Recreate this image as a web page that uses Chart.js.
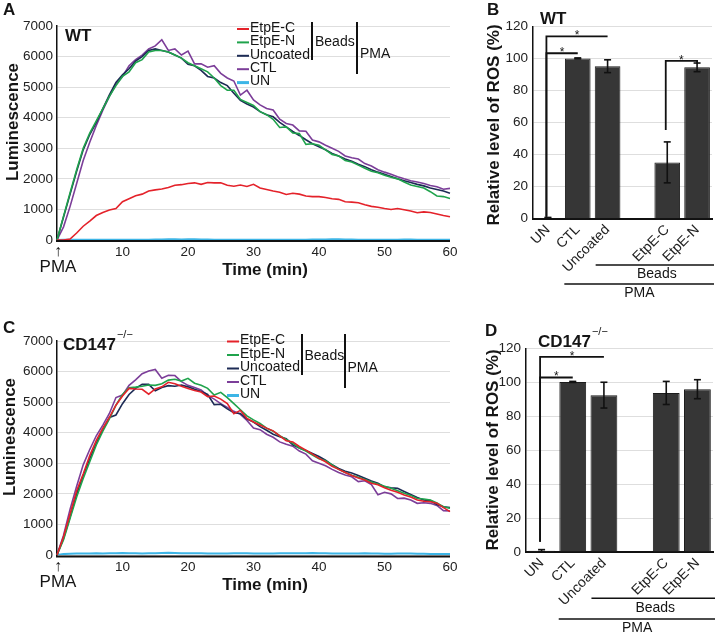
<!DOCTYPE html>
<html><head><meta charset="utf-8">
<script src="https://cdn.jsdelivr.net/npm/chart.js@4.4.1/dist/chart.umd.min.js"></script>
<style>
html,body{margin:0;padding:0;background:#fff;}
#wrap{position:relative;width:726px;height:636px;overflow:hidden;background:#fff;}
#wrap canvas{position:absolute;left:0;top:0;}
</style></head><body>
<div id="wrap">
<canvas id="cA" width="726" height="636"></canvas>
<canvas id="cB" width="726" height="636"></canvas>
<canvas id="cC" width="726" height="636"></canvas>
<canvas id="cD" width="726" height="636"></canvas>
</div>
<script>
// ---------------- DATA ----------------
const times = [0,1,2,3,4,5,6,7,8,9,10,11,12,13,14,15,16,17,18,19,20,21,22,23,24,25,26,27,28,29,30,31,32,33,34,35,36,37,38,39,40,41,42,43,44,45,46,47,48,49,50,51,52,53,54,55,56,57,58,59,60];
const xTickValues = [10,20,30,40,50,60];
const lumTicks = [0,1000,2000,3000,4000,5000,6000,7000];
const rosTicks = [0,20,40,60,80,100,120];
const seriesNames = ['EtpE-C','EtpE-N','Uncoated','CTL','UN'];

// WT luminescence
const wtEtpEC = [0,0,30,230,450,620,800,900,980,1030, 1250,1350,1450,1500,1600,1640,1670,1720,1790,1810, 1850,1870,1820,1880,1870,1870,1790,1760,1800,1750, 1820,1700,1650,1600,1560,1490,1530,1500,1440,1420, 1420,1390,1350,1330,1250,1240,1220,1150,1100,1070, 1030,1000,1030,990,950,890,920,900,850,800, 760];
const wtEtpEN = [0,780,1550,2300,3000,3500,3900,4300,4700,5050, 5350,5500,5800,5900,6150,6200,6200,6150,6050,5950, 5800,5700,5600,5500,5300,5050,4900,4900,4600,4500, 4400,4200,4100,3950,3680,3700,3500,3480,3130,3150, 3100,2950,2800,2750,2600,2550,2450,2350,2250,2200, 2120,2050,2000,1900,1800,1750,1700,1580,1440,1420, 1360];
const wtUncoated = [0,750,1500,2250,2950,3450,3850,4300,4750,5150, 5400,5600,5850,6000,6200,6250,6200,6150,6050,5950, 5750,5700,5550,5350,5300,5150,5050,4800,4570,4450, 4350,4200,4100,4030,3850,3700,3550,3420,3280,3150, 3050,2950,2830,2750,2650,2580,2480,2400,2300,2220, 2150,2080,2000,1940,1880,1820,1770,1700,1650,1600, 1530];
const wtCTL = [0,430,1100,1850,2600,3200,3750,4250,4700,5100, 5350,5700,5900,6050,6250,6350,6550,6200,6250,6050, 6180,5760,5760,5650,5700,5450,5300,5200,4740,4900, 4580,4420,4300,4250,3950,3810,3760,3570,3560,3270, 3210,3100,3000,2900,2750,2690,2650,2500,2420,2300, 2220,2150,2070,2000,1940,1900,1850,1780,1740,1660, 1690];
const wtUN = [0,5,5,5,10,10,10,5,10,10, 10,10,10,10,10,15,20,25,25,20, 25,25,20,15,10,10,10,5,5,5, 5,5,5,5,5,5,10,10,10,15, 15,20,25,25,20,15,10,10,10,5, 5,5,10,15,15,10,10,5,5,5, 5];

// CD147-/- luminescence
const koEtpEC = [0,600,1350,2100,2650,3250,3750,4150,4500,4900, 5200,5450,5430,5420,5260,5430,5500,5650,5600,5520, 5450,5380,5330,5180,5200,5100,4950,4620,4730,4470, 4350,4250,4150,4060,3900,3740,3700,3550,3430,3300, 3160,3050,2900,2800,2700,2600,2520,2450,2350,2300, 2200,2120,2050,1960,1900,1800,1760,1740,1690,1550, 1420];
const koEtpEN = [0,500,1200,1900,2500,3050,3600,4050,4450,4900, 5250,5470,5490,5520,5560,5550,5600,5720,5750,5690, 5780,5620,5550,5450,5230,5320,5150,4950,4750,4550, 4420,4300,4150,4050,3900,3780,3650,3500,3400,3270, 3150,3080,2950,2800,2700,2610,2540,2470,2390,2320, 2250,2180,2100,2020,1950,1850,1830,1800,1700,1580, 1530];
const koUncoated = [0,550,1250,2000,2600,3150,3650,4100,4500,4580, 4950,5250,5450,5580,5580,5370,5480,5540,5520,5560, 5500,5420,5350,5250,4920,4930,4780,4650,4630,4450, 4350,4200,4080,3950,3870,3800,3600,3500,3420,3320, 3220,3100,2950,2830,2740,2680,2600,2510,2420,2350, 2230,2200,2180,2080,1980,1880,1800,1780,1650,1580, 1550];
const koCTL = [0,650,1500,2250,2950,3450,3900,4250,4630,5150, 5230,5550,5730,5930,6020,6070,5780,5880,5870,5670, 5550,5480,5400,5220,5100,4950,4830,4700,4600,4400, 4150,4100,3950,3850,3700,3620,3560,3400,3300,3080, 3000,2920,2800,2700,2620,2560,2400,2430,2300,1970, 2050,2000,1850,1860,1800,1690,1710,1690,1620,1450, 1440];
const koUN = [0,30,40,45,50,50,55,50,55,60, 65,60,55,50,55,60,65,70,65,60, 60,55,55,50,50,45,50,55,60,55, 50,50,45,50,55,60,60,55,60,65, 60,55,50,50,45,45,50,55,50,45, 40,40,45,50,45,40,40,35,35,30, 30];

// Relative ROS (%)
const barCategories = ['UN','CTL','Uncoated','','EtpE-C','EtpE-N'];
const wtRos    = [0.5, 100.2, 95.3, null, 35.2, 94.6];
const wtRosErr = [0.3, 0.3, 4.0, null, 12.8, 2.7];
const koRos    = [0.8, 100.2, 92.4, null, 93.7, 95.9];
const koRosErr = [0.6, 0.3, 7.6, null, 6.8, 5.6];

// significance brackets: [fromIndex, toIndex, baseValue, levelValue, endValue]
const wtSig = [[0,1,1.2,103.4,null],[0,2,1.2,114,null],[4,5,55.4,98.6,97]];
const koSig = [[0,1,6,102.8,null],[0,2,6,114.9,null]];

// ---------------- STYLE ----------------
const FONT = "'Liberation Sans', Arial, Helvetica, sans-serif";
const lineColors = ['#e4222a','#1fa34c','#1d2b55','#7c3e99','#3db5e6'];
Chart.defaults.font.family = FONT;
Chart.defaults.color = '#222';
Chart.defaults.animation = false;
Chart.defaults.plugins.legend.display = false;
Chart.defaults.plugins.tooltip.enabled = false;

function fixWidth(w){ return s => { s.width = w; s.paddingTop = 0; s.paddingBottom = 0; s.paddingLeft = 0; s.paddingRight = 0; }; }
function fixHeight(h){ return s => { s.height = h; s.paddingTop = 0; s.paddingBottom = 0; s.paddingLeft = 0; s.paddingRight = 0; }; }

function txt(ctx, s, x, y, font, align, base, rot){
  ctx.save(); ctx.font = font; ctx.fillStyle = '#151515';
  ctx.textAlign = align || 'left'; ctx.textBaseline = base || 'middle';
  ctx.translate(x, y); if (rot) ctx.rotate(rot); ctx.fillText(s, 0, 0); ctx.restore();
}
function seg(ctx, pts, w, color){
  ctx.save(); ctx.strokeStyle = color || '#111'; ctx.lineWidth = w || 2; ctx.lineCap = 'butt';
  ctx.beginPath(); pts.forEach((p,i) => i ? ctx.lineTo(p[0],p[1]) : ctx.moveTo(p[0],p[1])); ctx.stroke(); ctx.restore();
}
function geno(ctx, g, sup, x, y){
  txt(ctx, g, x, y, 'bold 17px ' + FONT);
  if (sup) {
    ctx.save(); ctx.font = 'bold 17px ' + FONT; const w = ctx.measureText(g).width; ctx.restore();
    txt(ctx, sup, x + w + 1, y - 10, '11px ' + FONT);
  }
}

// ---------------- LINE PANELS ----------------
function linePlugin(p){
  return {
    id: 'line' + p.panel,
    afterDatasetsDraw(chart){
      const a = chart.chartArea;
      seg(chart.ctx, [[a.left - 1, a.bottom + p.axisOff],[a.right, a.bottom + p.axisOff]], 2.2, '#111');
    },
    afterDraw(chart){
      const ctx = chart.ctx, x = chart.scales.x;
      txt(ctx, p.panel, p.panelXY[0], p.panelXY[1], 'bold 17px ' + FONT);
      geno(ctx, p.geno, p.sup, p.genoXY[0], p.genoXY[1]);
      // legend
      seriesNames.forEach((n,i) => {
        const y = p.legendY0 + i * p.rowH;
        seg(ctx, [[p.legendX, y + 1],[p.legendX + 12, y + 1]], i === 4 ? 3 : 2, lineColors[i]);
        txt(ctx, n, p.legendX + 13, y, '14px ' + FONT);
      });
      seg(ctx, [[p.beadsX, p.beadsY[0]],[p.beadsX, p.beadsY[1]]], 2);
      txt(ctx, 'Beads', p.beadsText[0], p.beadsText[1], '14px ' + FONT);
      seg(ctx, [[p.pmaX, p.pmaY[0]],[p.pmaX, p.pmaY[1]]], 2);
      txt(ctx, 'PMA', p.pmaText[0], p.pmaText[1], '14px ' + FONT);
      // axis titles
      txt(ctx, 'Luminescence', p.yTitleXY[0], p.yTitleXY[1], 'bold 17px ' + FONT, 'center', 'middle', -Math.PI/2);
      txt(ctx, 'Time (min)', p.xTitleXY[0], p.xTitleXY[1], 'bold 17px ' + FONT, 'center', 'middle');
      // PMA addition marker at t = 0
      const x0 = x.getPixelForValue(0);
      txt(ctx, '\u2191', x0 + 1, p.arrowY, '16px ' + FONT, 'center', 'middle');
      txt(ctx, 'PMA', x0 + 1, p.pmaLabelY, '17px ' + FONT, 'center', 'middle');
    }
  };
}

function lineChart(id, series, g, p){
  return new Chart(document.getElementById(id), {
    type: 'line',
    data: {
      labels: times,
      datasets: seriesNames.map((n,i) => ({
        label: n, data: series[i], borderColor: lineColors[i], backgroundColor: lineColors[i],
        borderWidth: i === 4 ? 2 : 1.6, pointRadius: 0, tension: 0, fill: false
      }))
    },
    options: {
      responsive: false, animation: false,
      layout: { padding: { left: g.left - 40, right: 726 - g.right, top: g.top, bottom: 636 - g.bottom - 30 } },
      scales: {
        x: {
          type: 'category', offset: false,
          grid: { display: false, drawTicks: false }, border: { display: false },
          ticks: { autoSkip: false, maxRotation: 0, minRotation: 0, padding: 4, color: '#222', font: { size: 13.5 },
                   callback: (v, i) => xTickValues.includes(times[i]) ? String(times[i]) : '' },
          afterFit: fixHeight(30)
        },
        y: {
          min: 0, max: 7000,
          grid: { color: '#dedede', lineWidth: 1, drawTicks: false },
          border: { display: true, color: '#111', width: 1.5 },
          ticks: { padding: 4, color: '#222', font: { size: 13.5 }, callback: v => String(v) },
          afterBuildTicks: s => { s.ticks = lumTicks.map(v => ({ value: v })); },
          afterFit: fixWidth(40)
        }
      }
    },
    plugins: [linePlugin(p)]
  });
}

// ---------------- BAR PANELS ----------------
function barPlugin(p){
  return {
    id: 'bar' + p.panel,
    afterDatasetsDraw(chart){
      const ctx = chart.ctx, x = chart.scales.x, y = chart.scales.y;
      p.means.forEach((m,i) => {
        if (m === null) return;
        const cx = x.getPixelForValue(i), e = p.errs[i];
        const yt = y.getPixelForValue(m + e), yb = y.getPixelForValue(Math.max(0, m - e));
        seg(ctx, [[cx, yt],[cx, yb]], 1.6);
        seg(ctx, [[cx - 3.5, yt],[cx + 3.5, yt]], 1.6);
        seg(ctx, [[cx - 3.5, yb],[cx + 3.5, yb]], 1.6);
      });
    },
    afterDraw(chart){
      const ctx = chart.ctx, x = chart.scales.x, y = chart.scales.y, a = chart.chartArea;
      const slot = (a.right - a.left) / barCategories.length;
      txt(ctx, p.panel, p.panelXY[0], p.panelXY[1], 'bold 17px ' + FONT);
      geno(ctx, p.geno, p.sup, p.genoXY[0], p.genoXY[1]);
      txt(ctx, 'Relative level of ROS (%)', p.yTitleXY[0], p.yTitleXY[1], 'bold 17px ' + FONT, 'center', 'middle', -Math.PI/2);
      // significance brackets
      p.sig.forEach(s => {
        const x1 = x.getPixelForValue(s[0]) - 1.5, x2 = x.getPixelForValue(s[1]);
        const yb = y.getPixelForValue(s[2]), yl = y.getPixelForValue(s[3]);
        const pts = [[x1, yb],[x1, yl],[x2, yl]];
        if (s[4] !== null) pts.push([x2, y.getPixelForValue(s[4])]);
        seg(ctx, pts, 1.8);
        txt(ctx, '*', (x1 + x2) / 2, yl + 3, '12px ' + FONT, 'center', 'alphabetic');
      });
      // Beads / PMA grouping lines
      const yBeads = a.bottom + 46.3, yPma = a.bottom + p.pmaOff;
      seg(ctx, [[x.getPixelForValue(2) - 0.4 * slot, yBeads],[a.right + 2, yBeads]], 1.5);
      txt(ctx, 'Beads', (x.getPixelForValue(2) - 0.4 * slot + a.right) / 2 + 3, yBeads + 9.5, '14px ' + FONT, 'center', 'middle');
      seg(ctx, [[x.getPixelForValue(1) - 0.45 * slot, yPma],[a.right + 2, yPma]], 1.5);
      txt(ctx, 'PMA', x.getPixelForValue(3) + 2, yPma + 9.5, '14px ' + FONT, 'center', 'middle');
    }
  };
}

function barChart(id, means, errs, g, p){
  p.means = means; p.errs = errs;
  return new Chart(document.getElementById(id), {
    type: 'bar',
    data: {
      labels: barCategories,
      datasets: [{ data: means, backgroundColor: '#363636', borderColor: '#1c1c1c', borderWidth: 1,
                   barPercentage: 0.86, categoryPercentage: 1 }]
    },
    options: {
      responsive: false, animation: false,
      layout: { padding: { left: g.left - 40, right: 726 - g.right, top: g.top, bottom: 636 - g.bottom - 60 } },
      scales: {
        x: {
          grid: { display: false, drawTicks: false },
          border: { display: true, color: '#111', width: 2 },
          ticks: { autoSkip: false, maxRotation: 45, minRotation: 45, padding: 3, color: '#222', font: { size: 14 } },
          afterFit: fixHeight(60)
        },
        y: {
          min: 0, max: 120,
          grid: { color: '#dedede', lineWidth: 1, drawTicks: false },
          border: { display: true, color: '#111', width: 1.5 },
          ticks: { padding: 5, color: '#222', font: { size: 13.5 }, callback: v => String(v) },
          afterBuildTicks: s => { s.ticks = rosTicks.map(v => ({ value: v })); },
          afterFit: fixWidth(40)
        }
      }
    },
    plugins: [barPlugin(p)]
  });
}

lineChart('cA', [wtEtpEC, wtEtpEN, wtUncoated, wtCTL, wtUN],
  { left: 57, right: 450, top: 26, bottom: 240 },
  { panel: 'A', panelXY: [3, 10], geno: 'WT', sup: null, genoXY: [65, 36],
    legendX: 237, legendY0: 28, rowH: 13.4,
    beadsX: 312, beadsY: [22, 60], beadsText: [315, 42.5],
    pmaX: 357, pmaY: [22, 74], pmaText: [360, 54.5],
    yTitleXY: [13, 122], xTitleXY: [265, 270.5], arrowY: 252, pmaLabelY: 267.5, axisOff: 1 });

lineChart('cC', [koEtpEC, koEtpEN, koUncoated, koCTL, koUN],
  { left: 57, right: 450, top: 341, bottom: 555 },
  { panel: 'C', panelXY: [3, 328], geno: 'CD147', sup: '\u2212/\u2212', genoXY: [63, 345],
    legendX: 227, legendY0: 340.5, rowH: 13.5,
    beadsX: 302, beadsY: [334, 375], beadsText: [304.5, 356],
    pmaX: 345, pmaY: [334, 388], pmaText: [347.5, 368],
    yTitleXY: [10, 437], xTitleXY: [265, 585.5], arrowY: 567, pmaLabelY: 582.5, axisOff: 1.5 });

barChart('cB', wtRos, wtRosErr,
  { left: 533, right: 712, top: 26.7, bottom: 218.7 },
  { panel: 'B', panelXY: [487, 10], geno: 'WT', sup: null, genoXY: [540, 19.5],
    yTitleXY: [494.5, 125], sig: wtSig, pmaOff: 65.3 });

barChart('cD', koRos, koRosErr,
  { left: 526, right: 713, top: 348.3, bottom: 552 },
  { panel: 'D', panelXY: [485, 331], geno: 'CD147', sup: '\u2212/\u2212', genoXY: [538, 342],
    yTitleXY: [493, 450], sig: koSig, pmaOff: 67 });
</script>
</body></html>
